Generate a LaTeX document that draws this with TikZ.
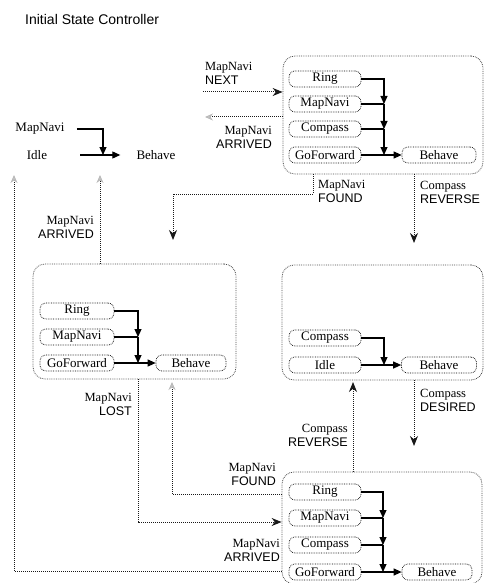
\documentclass[tikz,border=0pt]{standalone}
\usepackage{fontspec}
\setmainfont{Liberation Serif}
\newfontfamily\lsans{Liberation Sans}
\usetikzlibrary{arrows.meta}
\begin{document}
\begin{tikzpicture}[x=1pt,y=-1pt,
 statebox/.style={draw=gray!60!black, densely dotted, line width=0.8pt, rounded corners=12pt, inner sep=0pt},
 sub/.style={draw=black, densely dotted, line width=0.7pt, rounded corners=6pt, minimum width=72pt, minimum height=16pt, inner sep=0pt, font=\fontsize{13}{13}\selectfont},
 plain/.style={font=\fontsize{13}{13}\selectfont, inner sep=0pt},
 conn/.style={line width=1.1pt, black},
 cone/.style={conn, -{Triangle[length=8pt,width=7pt]}},
 trans/.style={draw=gray!20!black, densely dotted, line width=1pt},
 tarr/.style={trans, -{Stealth[length=10pt,width=8pt]}},
 tfaint/.style={trans, -{Stealth[length=8pt,width=7pt,fill=gray!35,color=gray!55]}},
 lab/.style={font=\fontsize{12.5}{14}\selectfont, inner sep=0pt},
]
\useasboundingbox (0,0) rectangle (487,583);

\node[font=\lsans\fontsize{14}{14}\selectfont, anchor=west, inner sep=0pt] (title) at (25,19) {Initial State Controller};

% initial state
\node[plain] (imap) at (40,129) {MapNavi};
\node[plain] (iidle) at (37,155) {Idle};
\node[plain] (ibeh) at (156,155) {Behave};
\coordinate (ij) at (103,155);
\draw[cone] ([xshift=12pt]imap.east) -| (ij);
\draw[cone] ([xshift=33pt]iidle.east) -- ([xshift=-16pt]ibeh.west);

% state boxes
\node[statebox, minimum width=200pt, minimum height=118pt] (s1) at (383,115) {};
\node[statebox, minimum width=203pt, minimum height=115pt] (s2) at (134.5,321.5) {};
\node[statebox, minimum width=201pt, minimum height=115pt] (s3) at (382.5,322.5) {};
\node[statebox, minimum width=200pt, minimum height=112pt] (s4) at (382,528) {};

% s1 contents
\node[sub] (a1) at (325,79) {Ring};
\node[sub] (a2) at (325,104) {MapNavi};
\node[sub] (a3) at (325,129) {Compass};
\node[sub] (a4) at (325,155) {GoForward};
\node[sub, minimum width=74pt] (a5) at (439,155) {Behave};
\coordinate (aj1) at (384,104);
\coordinate (aj2) at (384,129);
\coordinate (aj3) at (384,155);
\draw[cone] (a1.east) -| (aj1);
\draw[conn] (a2.east) -- (aj1);
\draw[cone] (aj1) -- (aj2);
\draw[conn] (a3.east) -- (aj2);
\draw[cone] (aj2) -- (aj3);
\draw[cone] (a4.east) -- (a5.west);

% s2 contents
\node[sub, minimum width=74pt] (b1) at (77,311) {Ring};
\node[sub, minimum width=74pt] (b2) at (77,337) {MapNavi};
\node[sub, minimum width=74pt] (b3) at (77,363) {GoForward};
\node[sub, minimum width=70pt] (b4) at (191,363) {Behave};
\coordinate (bj1) at (138,337);
\coordinate (bj2) at (138,363);
\draw[cone] (b1.east) -| (bj1);
\draw[conn] (b2.east) -- (bj1);
\draw[cone] (bj1) -- (bj2);
\draw[cone] (b3.east) -- (b4.west);

% s3 contents
\node[sub] (c1) at (325,338) {Compass};
\node[sub] (c2) at (325,365) {Idle};
\node[sub, minimum width=75pt] (c3) at (439,365) {Behave};
\coordinate (cj1) at (384,365);
\draw[cone] (c1.east) -| (cj1);
\draw[cone] (c2.east) -- (c3.west);

% s4 contents
\node[sub] (d1) at (325,492) {Ring};
\node[sub] (d2) at (325,518) {MapNavi};
\node[sub] (d3) at (325,545) {Compass};
\node[sub] (d4) at (325,572) {GoForward};
\node[sub, minimum width=70pt] (d5) at (437,572) {Behave};
\coordinate (dj1) at (383,518);
\coordinate (dj2) at (383,545);
\coordinate (dj3) at (383,572);
\draw[cone] (d1.east) -| (dj1);
\draw[conn] (d2.east) -- (dj1);
\draw[cone] (dj1) -- (dj2);
\draw[conn] (d3.east) -- (dj2);
\draw[cone] (dj2) -- (dj3);
\draw[cone] (d4.east) -- (d5.west);

% transitions
\coordinate (nxt) at (203,92);
\draw[tarr] (nxt) -- (nxt -| s1.west);
\coordinate (arr1) at (205,117);
\draw[tfaint] (arr1 -| s1.west) -- (arr1);
\coordinate (f1a) at (313,194);
\coordinate (f1b) at (173,240);
\draw[tarr] (f1a |- s1.south) -- (f1a) -| (f1b);
\coordinate (rev1) at (414,243);
\draw[tarr] (rev1 |- s1.south) -- (rev1);
\coordinate (arr2) at (100,175);
\draw[tfaint] (arr2 |- s2.north) -- (arr2);
\coordinate (arr3a) at (14,571);
\coordinate (arr3b) at (14,175);
\draw[tfaint] (arr3a -| s4.west) -- (arr3a) -- (arr3b);
\coordinate (lost) at (138,522);
\draw[tarr] (lost |- s2.south) -- (lost) -- (lost -| s4.west);
\coordinate (f2) at (172,494);
\coordinate (f2b) at (172,382);
\draw[tfaint] (f2 -| s4.west) -- (f2) -- (f2b);
\coordinate (rev2) at (353,382);
\draw[tarr] (rev2 |- s4.north) -- (rev2);
\coordinate (des) at (414,446);
\draw[tarr] (des |- s3.south) -- (des);

% labels
\node[lab, anchor=west, align=left] (l1) at (205,73) {MapNavi\\{\lsans NEXT}};
\node[lab, anchor=east, align=right] (l2) at (272,137) {MapNavi\\{\lsans ARRIVED}};
\node[lab, anchor=west, align=left] (l3) at (318,191) {MapNavi\\{\lsans FOUND}};
\node[lab, anchor=west, align=left] (l4) at (420,192) {Compass\\{\lsans REVERSE}};
\node[lab, anchor=east, align=right] (l5) at (94,227) {MapNavi\\{\lsans ARRIVED}};
\node[lab, anchor=east, align=right] (l6) at (132,404) {MapNavi\\{\lsans LOST}};
\node[lab, anchor=east, align=right] (l7) at (276,474) {MapNavi\\{\lsans FOUND}};
\node[lab, anchor=east, align=right] (l8) at (280,550) {MapNavi\\{\lsans ARRIVED}};
\node[lab, anchor=east, align=right] (l9) at (348,435) {Compass\\{\lsans REVERSE}};
\node[lab, anchor=west, align=left] (l10) at (420,400) {Compass\\{\lsans DESIRED}};
\end{tikzpicture}
\end{document}
